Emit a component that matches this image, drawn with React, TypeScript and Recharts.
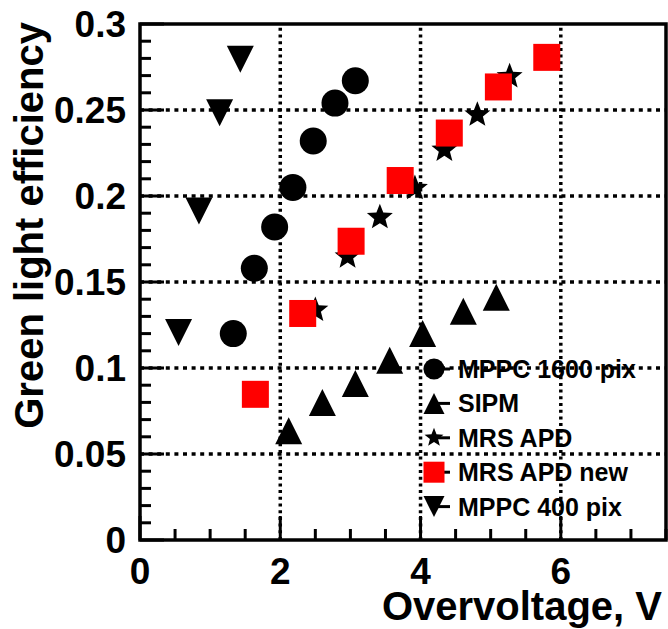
import React from 'react';
import { ScatterChart, Scatter, XAxis, YAxis, ReferenceLine, ReferenceArea, Legend } from 'recharts';

// ---- data ----
const seriesNames = ['MPPC 1600 pix', 'SIPM', 'MRS APD', 'MRS APD new', 'MPPC 400 pix'];

const mppc1600X = [1.33, 1.63, 1.92, 2.18, 2.47, 2.78, 3.07];
const mppc1600Y = [0.12, 0.158, 0.182, 0.205, 0.232, 0.254, 0.267];

const sipmX = [2.12, 2.6, 3.07, 3.56, 4.03, 4.61, 5.08];
const sipmY = [0.0635, 0.08, 0.091, 0.1045, 0.12, 0.133, 0.1412];

const mrsX = [2.5, 2.96, 3.42, 3.92, 4.34, 4.81, 5.27];
const mrsY = [0.1337, 0.1647, 0.1876, 0.2045, 0.2268, 0.2472, 0.2695];

const mrsNewX = [1.645, 2.32, 3.01, 3.71, 4.41, 5.11, 5.8];
const mrsNewY = [0.0847, 0.1317, 0.1737, 0.209, 0.2366, 0.2634, 0.2806];

const mppc400X = [0.55, 0.84, 1.135, 1.43];
const mppc400Y = [0.1207, 0.1913, 0.2484, 0.2795];

const xMajorTicks = [0, 2, 4, 6];
const xTickLabels = ['0', '2', '4', '6'];
const yMajorTicks = [0, 0.05, 0.1, 0.15, 0.2, 0.25, 0.3];
const yTickLabels = ['0', '0.05', '0.1', '0.15', '0.2', '0.25', '0.3'];
const xGrid = [2, 4, 6];
const yGrid = [0.05, 0.1, 0.15, 0.2, 0.25];

const X_MAX = 7.5;
const Y_MAX = 0.3;

// minor tick positions (axis decoration)
const xAllTicks: number[] = [];
for (let i = 0; i <= 15; i++) xAllTicks.push(+(i * 0.5).toFixed(2));
const yAllTicks: number[] = [];
for (let i = 0; i <= 30; i++) yAllTicks.push(+(i * 0.01).toFixed(2));

const zip = (xs: number[], ys: number[]) => xs.map((x, i) => ({ x, y: ys[i] }));
const dMppc1600 = zip(mppc1600X, mppc1600Y);
const dSipm = zip(sipmX, sipmY);
const dMrs = zip(mrsX, mrsY);
const dMrsNew = zip(mrsNewX, mrsNewY);
const dMppc400 = zip(mppc400X, mppc400Y);

const FONT = '"Liberation Sans", Arial, Helvetica, sans-serif';
const RED = '#ff0000';

type Kind = 'circle' | 'tri' | 'star' | 'square' | 'tridown';
const kinds: Kind[] = ['circle', 'tri', 'star', 'square', 'tridown'];

function starPoints(cx: number, cy: number, R: number, r: number) {
  const pts: string[] = [];
  for (let i = 0; i < 10; i++) {
    const a = -Math.PI / 2 + (i * Math.PI) / 5;
    const rad = i % 2 === 0 ? R : r;
    pts.push(`${cx + rad * Math.cos(a)},${cy + rad * Math.sin(a)}`);
  }
  return pts.join(' ');
}

function Marker({ kind, cx, cy, s }: { kind: Kind; cx: number; cy: number; s: number }) {
  if (cx == null || cy == null) return null;
  const h = s / 2;
  switch (kind) {
    case 'circle':
      return <circle cx={cx} cy={cy} r={h} fill="#000" />;
    case 'square':
      return <rect x={cx - h} y={cy - h} width={s} height={s} fill={RED} />;
    case 'tri':
      return <polygon points={`${cx},${cy - h} ${cx + h},${cy + h} ${cx - h},${cy + h}`} fill="#000" />;
    case 'tridown':
      return <polygon points={`${cx},${cy + h} ${cx + h},${cy - h} ${cx - h},${cy - h}`} fill="#000" />;
    case 'star':
      return <polygon points={starPoints(cx, cy, h * 1.05, h * 0.45)} fill="#000" />;
  }
  return null;
}

const Y_MARGIN = 14;
const X_MARGIN = 17;

const YTick = (props: any) => {
  const { x, y, payload } = props;
  const v = payload.value as number;
  const idx = yMajorTicks.findIndex((t) => Math.abs(t - v) < 1e-9);
  const major = idx >= 0;
  const ax = x + Y_MARGIN;
  return (
    <g>
      <line x1={ax} x2={ax + (major ? 24 : 11)} y1={y} y2={y} stroke="#000" strokeWidth={3} />
      {major && (
        <text x={x} y={y} dy="0.36em" textAnchor="end" fontFamily={FONT} fontWeight="bold" fontSize={37} fill="#000">
          {yTickLabels[idx]}
        </text>
      )}
    </g>
  );
};

const XTick = (props: any) => {
  const { x, y, payload } = props;
  const v = payload.value as number;
  const idx = xMajorTicks.findIndex((t) => Math.abs(t - v) < 1e-9);
  const major = idx >= 0;
  const ay = y - X_MARGIN;
  return (
    <g>
      <line x1={x} x2={x} y1={ay} y2={ay - (major ? 24 : 11)} stroke="#000" strokeWidth={3} />
      {major && (
        <text x={x} y={y} dy="0.72em" textAnchor="middle" fontFamily={FONT} fontWeight="bold" fontSize={37} fill="#000">
          {xTickLabels[idx]}
        </text>
      )}
    </g>
  );
};

const XTitle = (props: any) => {
  const vb = props.viewBox;
  return (
    <text x={vb.x + vb.width - 4} y={vb.y + 80} textAnchor="end" fontFamily={FONT} fontWeight="bold" fontSize={40} fill="#000">
      Overvoltage, V
    </text>
  );
};

const YTitle = (props: any) => {
  const vb = props.viewBox;
  const tx = vb.x + 43;
  const ty = vb.y - 2;
  return (
    <text x={tx} y={ty} transform={`rotate(-90, ${tx}, ${ty})`} textAnchor="end" fontFamily={FONT} fontWeight="bold" fontSize={40} fill="#000">
      Green light efficiency
    </text>
  );
};

const LegendContent = () => {
  const rowH = 34.4;
  return (
    <svg width={245} height={180} style={{ display: 'block', overflow: 'visible' }}>
      {seriesNames.map((name, i) => {
        const cy = 17 + i * rowH;
        const cx = 14;
        return (
          <g key={name}>
            <line x1={cx} x2={cx + 16} y1={cy} y2={cy} stroke="#000" strokeWidth={3} />
            <Marker kind={kinds[i]} cx={cx} cy={cy} s={kinds[i] === 'star' ? 19 : 21} />
            <text x={38} y={cy} dy="0.36em" fontFamily={FONT} fontWeight="bold" fontSize={25} fill="#000">
              {name}
            </text>
          </g>
        );
      })}
    </svg>
  );
};

export default function App() {
  const datasets = [dMppc1600, dSipm, dMrs, dMrsNew, dMppc400];
  return (
    <div style={{ position: 'absolute', left: 0, top: 0, background: '#fff' }}>
      <ScatterChart width={668} height={629} margin={{ top: 24, right: 2, left: 0, bottom: 0 }}>
        <XAxis
          type="number"
          dataKey="x"
          domain={[0, X_MAX]}
          ticks={xAllTicks}
          interval={0}
          allowDataOverflow
          axisLine={false}
          tickLine={false}
          tickSize={0}
          tickMargin={X_MARGIN}
          height={89}
          tick={<XTick />}
          label={<XTitle />}
        />
        <YAxis
          type="number"
          dataKey="y"
          domain={[0, Y_MAX]}
          ticks={yAllTicks}
          interval={0}
          allowDataOverflow
          axisLine={false}
          tickLine={false}
          tickSize={0}
          tickMargin={Y_MARGIN}
          width={140}
          tick={<YTick />}
          label={<YTitle />}
        />
        {xGrid.map((v) => (
          <ReferenceLine key={'gx' + v} x={v} stroke="#000" strokeWidth={3.5} strokeDasharray="3 3.7" />
        ))}
        {yGrid.map((v) => (
          <ReferenceLine key={'gy' + v} y={v} stroke="#000" strokeWidth={3.5} strokeDasharray="4 4.6" />
        ))}
        <ReferenceArea x1={0} x2={X_MAX} y1={0} y2={Y_MAX} fill="none" stroke="#000" strokeWidth={3.5} />
        {datasets.map((d, i) => (
          <Scatter
            key={seriesNames[i]}
            name={seriesNames[i]}
            data={d}
            isAnimationActive={false}
            fill={kinds[i] === 'square' ? RED : '#000'}
            shape={(p: any) => <Marker kind={kinds[i]} cx={p.cx} cy={p.cy} s={kinds[i] === 'star' ? 26 : 27} />}
          />
        ))}
        <Legend
          layout="vertical"
          align="center"
          verticalAlign="middle"
          content={<LegendContent />}
          wrapperStyle={{ position: 'absolute', left: 420, top: 352, width: 245, height: 180 }}
        />
      </ScatterChart>
    </div>
  );
}
